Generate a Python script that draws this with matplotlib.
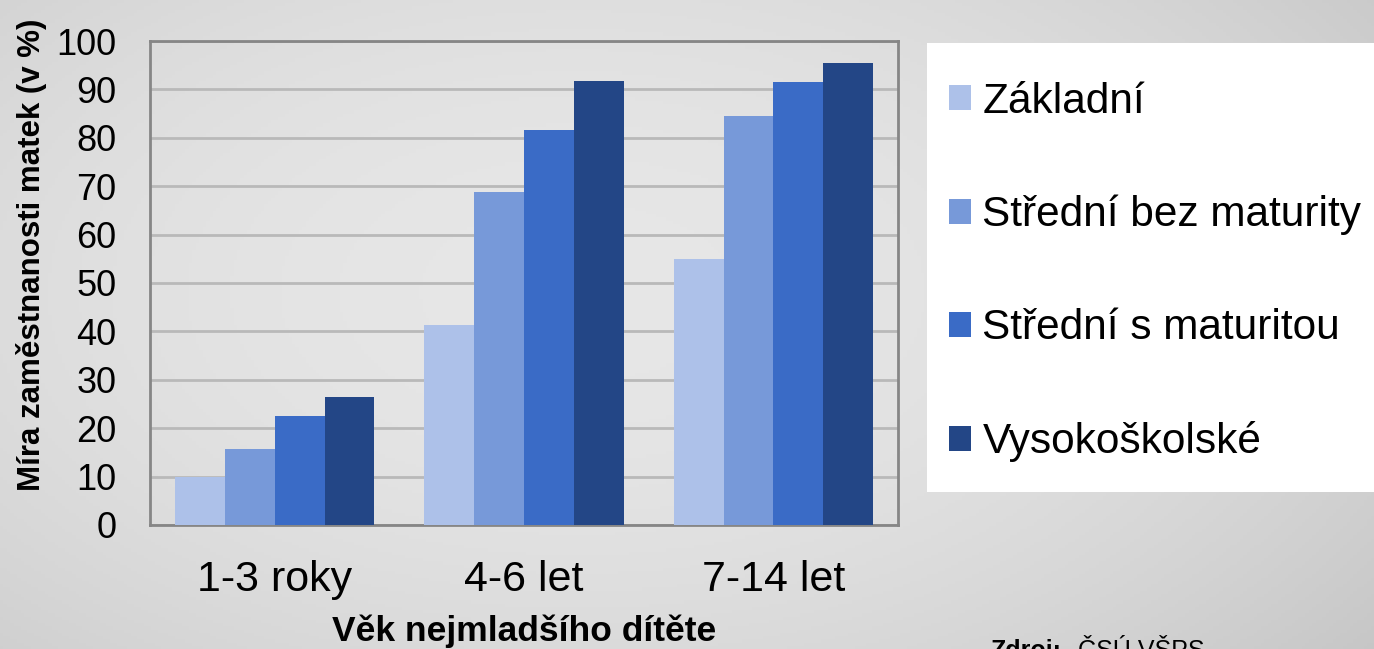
import numpy as np
import matplotlib
matplotlib.use("Agg")
import matplotlib.pyplot as plt
from matplotlib.patches import Patch, Rectangle

plt.rcParams['font.family'] = ['Liberation Sans', 'DejaVu Sans']

categories = ['1-3 roky', '4-6 let', '7-14 let']
series = ['Základní', 'Střední bez maturity', 'Střední s maturitou', 'Vysokoškolské']
zakladni = [10.0, 41.3, 55.0]
stredni_bez = [15.7, 68.8, 84.5]
stredni_s = [22.5, 81.6, 91.5]
vysokoskolske = [26.4, 91.7, 95.5]
values = [zakladni, stredni_bez, stredni_s, vysokoskolske]
colors = ['#adc1e9', '#7799d9', '#3a6bc6', '#234686']

fig = plt.figure(figsize=(13.74, 6.49), dpi=100)

# background gradient
bg = fig.add_axes([0, 0, 1, 1], zorder=-10)
yy, xx = np.mgrid[0:1:200j, 0:1:400j]
r = np.sqrt(((xx - 0.42) / 0.75) ** 2 + ((yy - 0.55) / 0.9) ** 2)
shade = 0.905 - 0.13 * r ** 2
bg.imshow(np.dstack([shade] * 3), aspect='auto', extent=[0, 1, 0, 1], origin='lower')
bg.set_axis_off()

ax = fig.add_axes([0.1092, 0.1911, 0.5444, 0.7457])
ax.patch.set_alpha(0)
x = np.arange(len(categories))
w = 0.2
for i, (name, vals) in enumerate(zip(series, values)):
    ax.bar(x + (i - 1.5) * w, vals, w, color=colors[i], label=name, zorder=3)

ax.set_xlim(-0.5, 2.5)
ax.set_ylim(0, 100)
ax.set_yticks(range(0, 101, 10))
ax.set_xticks(x)
ax.set_xticklabels(categories)
ax.grid(axis='y', color='#b9b9b9', linewidth=2, zorder=0)
for s in ax.spines.values():
    s.set_color('#868686')
    s.set_linewidth(2)
ax.tick_params(axis='y', length=0, pad=24, labelsize=26)
ax.tick_params(axis='x', length=0, pad=25, labelsize=31)

ax.set_xlabel('Věk nejmladšího dítěte', fontsize=25.5, fontweight='bold', va='center')
ax.xaxis.set_label_coords(0.5, -0.22)
ax.set_ylabel('Míra zaměstnanosti matek (v %)', fontsize=22.5, fontweight='bold', va='center')
ax.yaxis.set_label_coords(-0.159, 0.558)

# legend box
fig.patches.append(Rectangle((927 / 1374, 1 - 492 / 649), 0.5, (492 - 43) / 649,
                             transform=fig.transFigure, facecolor='white',
                             edgecolor='none', zorder=1))
handles = [Patch(facecolor=c, edgecolor='none') for c in colors]
leg = fig.legend(handles, series, loc='center left',
                 bbox_to_anchor=(932 / 1374, 1 - 272 / 649), frameon=False,
                 fontsize=30.5, labelspacing=1.72, handlelength=0.53, handleheight=0.53,
                 handletextpad=0.26, borderaxespad=0)
leg.set_zorder(2)

fig.text(990 / 1374, -0.014, 'Zdroj:', fontsize=18, fontweight='bold', va='baseline')
fig.text(1078 / 1374, -0.014, 'ČSÚ VŠPS', fontsize=18, va='baseline')

fig.savefig('out.png', dpi=100)
